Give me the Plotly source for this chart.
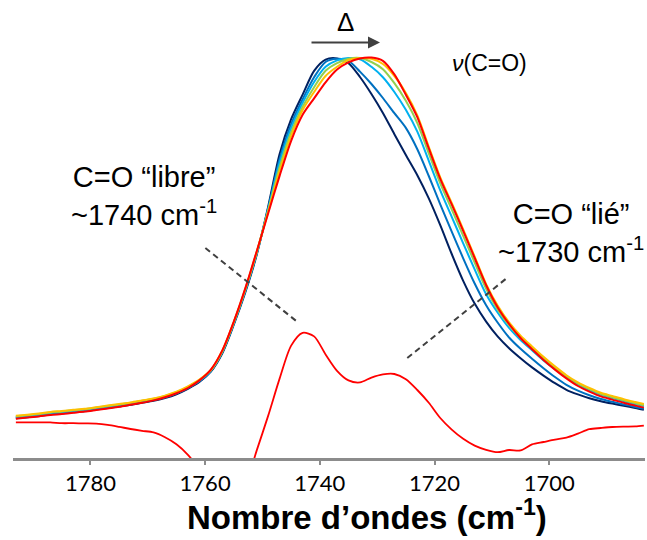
import plotly.graph_objects as go

# Wavenumber grid (cm-1)
wavenumbers = [1793, 1791, 1789, 1787, 1785, 1783, 1781, 1779, 1777, 1775, 1773, 1771, 1769, 1767,
               1765, 1763, 1761, 1759, 1757, 1755, 1753, 1751, 1749, 1747, 1745, 1743, 1741, 1739,
               1737, 1735, 1733, 1731, 1729, 1727, 1725, 1723, 1721, 1719, 1717, 1715, 1713, 1711,
               1709, 1707, 1705, 1703, 1701, 1699, 1697, 1695, 1693, 1691, 1689, 1687, 1685, 1683.5]

# Normalised absorbance spectra
navy = [0.0995, 0.102, 0.105, 0.109, 0.1115, 0.1145, 0.117, 0.121, 0.125, 0.129, 0.133, 0.138, 0.143, 0.150,
        0.1595, 0.173, 0.190, 0.216, 0.262, 0.3335, 0.414, 0.508, 0.629, 0.7605, 0.847, 0.9085, 0.968, 0.996,
        0.999, 0.987, 0.9525, 0.910, 0.8625, 0.8095, 0.7575, 0.707, 0.649, 0.582, 0.510, 0.443, 0.386, 0.341,
        0.304, 0.2745, 0.2495, 0.2265, 0.206, 0.187, 0.1705, 0.159, 0.1495, 0.142, 0.136, 0.1305, 0.125, 0.1205]
blue = [0.1015, 0.104, 0.107, 0.111, 0.1135, 0.1165, 0.119, 0.123, 0.127, 0.131, 0.135, 0.140, 0.145, 0.152,
        0.1615, 0.175, 0.192, 0.2175, 0.264, 0.336, 0.417, 0.511, 0.625, 0.748, 0.835, 0.897, 0.952, 0.99,
        0.998, 0.993, 0.966, 0.935, 0.90, 0.862, 0.8252, 0.772, 0.705, 0.634, 0.5658, 0.4993, 0.4363, 0.382,
        0.3387, 0.3013, 0.273, 0.2482, 0.2245, 0.2024, 0.183, 0.1685, 0.157, 0.1474, 0.1405, 0.134, 0.1277, 0.123]
lightblue = [0.1025, 0.105, 0.108, 0.112, 0.1145, 0.1175, 0.120, 0.124, 0.128, 0.132, 0.136, 0.141, 0.146, 0.153,
             0.1625, 0.176, 0.193, 0.2185, 0.2655, 0.337, 0.419, 0.5125, 0.622, 0.739, 0.825, 0.888, 0.940, 0.978,
             0.994, 1.0, 0.997, 0.978, 0.952, 0.915, 0.8704, 0.8158, 0.7428, 0.669, 0.603, 0.5368, 0.4715, 0.4093,
             0.3636, 0.3251, 0.295, 0.2695, 0.244, 0.222, 0.201, 0.184, 0.170, 0.158, 0.150, 0.142, 0.135, 0.130]
green = [0.1045, 0.107, 0.110, 0.114, 0.1165, 0.1195, 0.122, 0.126, 0.130, 0.134, 0.138, 0.143, 0.148, 0.155,
         0.1645, 0.178, 0.195, 0.2195, 0.267, 0.339, 0.421, 0.514, 0.619, 0.728, 0.815, 0.878, 0.927, 0.968,
         0.987, 0.998, 1.0, 0.99, 0.972, 0.937, 0.893, 0.8375, 0.7615, 0.6864, 0.6216, 0.5555, 0.4886, 0.4229,
         0.3713, 0.332, 0.300, 0.274, 0.249, 0.224, 0.203, 0.186, 0.172, 0.160, 0.152, 0.144, 0.137, 0.132]
gold = [0.1055, 0.108, 0.111, 0.115, 0.1175, 0.1205, 0.123, 0.127, 0.131, 0.135, 0.139, 0.144, 0.149, 0.156,
        0.1655, 0.179, 0.196, 0.220, 0.268, 0.340, 0.4225, 0.5155, 0.616, 0.718, 0.805, 0.870, 0.915, 0.955,
        0.978, 0.995, 1.0, 0.998, 0.985, 0.955, 0.9125, 0.8564, 0.7778, 0.7015, 0.6377, 0.5718, 0.5034, 0.4347,
        0.3813, 0.339, 0.306, 0.279, 0.253, 0.229, 0.207, 0.189, 0.175, 0.163, 0.155, 0.147, 0.140, 0.135]
red = [0.098, 0.101, 0.104, 0.1075, 0.110, 0.113, 0.116, 0.120, 0.124, 0.128, 0.133, 0.138, 0.144, 0.152,
       0.162, 0.175, 0.194, 0.221, 0.269, 0.341, 0.424, 0.517, 0.612, 0.706, 0.793, 0.858, 0.899, 0.939,
       0.971, 0.989, 0.999, 1.001, 0.993, 0.959, 0.908, 0.852, 0.774, 0.698, 0.634, 0.568, 0.500, 0.432,
       0.377, 0.335, 0.300, 0.272, 0.245, 0.221, 0.199, 0.180, 0.166, 0.154, 0.146, 0.138, 0.131, 0.126]
# Difference spectrum
difference = [0.089, 0.089, 0.089, 0.089, 0.087, 0.087, 0.0865, 0.086, 0.083, 0.078, 0.0725, 0.068, 0.064, 0.052,
              0.0345, 0.008, -0.03, -0.08, -0.105, -0.105, -0.068, 0.019, 0.106, 0.199, 0.281, 0.313, 0.304, 0.259,
              0.218, 0.194, 0.189, 0.201, 0.209, 0.21, 0.197, 0.170, 0.138, 0.100, 0.071, 0.048, 0.031, 0.0205,
              0.0145, 0.020, 0.019, 0.034, 0.040, 0.046, 0.051, 0.061, 0.072, 0.075, 0.0775, 0.0785, 0.079, 0.081]

tick_values = [1780, 1760, 1740, 1720, 1700]

series = [
    (navy, "#002060"),
    (blue, "#0070C0"),
    (lightblue, "#00B0F0"),
    (green, "#92D050"),
    (gold, "#FFC000"),
    (red, "#FF0000"),
]

fig = go.Figure()
for ys, col in series:
    fig.add_trace(go.Scatter(x=wavenumbers, y=ys, mode="lines",
                             line=dict(color=col, width=2, shape="spline", smoothing=0.8),
                             hoverinfo="skip", showlegend=False))
fig.add_trace(go.Scatter(x=wavenumbers, y=difference, mode="lines",
                         line=dict(color="#FF0000", width=1.8, shape="spline", smoothing=0.8),
                         hoverinfo="skip", showlegend=False))

txt_font = dict(family="Liberation Sans, Arial", size=29, color="black")

annotations = [
    dict(text="C=O “libre”<br>~1740 cm<sup>-1</sup>", x=0.208, y=1 - 196 / 458, xref="paper", yref="paper",
         showarrow=False, font=txt_font, align="center", xanchor="center", yanchor="middle"),
    dict(text="C=O “lié”<br>~1730 cm<sup>-1</sup>", x=(571 - 13) / 632, y=1 - 233 / 458, xref="paper", yref="paper",
         showarrow=False, font=txt_font, align="center", xanchor="center", yanchor="middle"),
    dict(text="<i>ν</i>(C=O)", x=(489 - 13) / 632, y=1 - 63 / 458, xref="paper", yref="paper",
         showarrow=False, font=dict(family="Liberation Sans, Arial", size=23, color="black"),
         xanchor="center", yanchor="middle"),
    dict(text="Δ", x=(345 - 13) / 632, y=1 - 22 / 458, xref="paper", yref="paper",
         showarrow=False, font=dict(family="Liberation Sans, Arial", size=26, color="black"),
         xanchor="center", yanchor="middle"),
    dict(text="", x=(380 - 13) / 632, y=1 - 42.5 / 458, xref="paper", yref="paper",
         showarrow=True, ax=-70, ay=0, axref="pixel", ayref="pixel",
         arrowhead=2, arrowsize=1.2, arrowwidth=2, arrowcolor="#404040", standoff=0),
    dict(text="<b>Nombre d’ondes (cm<sup>-1</sup>)</b>", x=(367 - 13) / 632, y=1 - 538 / 458,
         xref="paper", yref="paper", showarrow=False,
         font=dict(family="Liberation Sans, Arial", size=33, color="black"),
         xanchor="center", yanchor="bottom"),
]

shapes = [
    dict(type="line", xref="x", yref="y", x0=1759.96, y0=0.525, x1=1743.9, y1=0.34,
         line=dict(color="#404040", width=2, dash="6px,4px")),
    dict(type="line", xref="x", yref="y", x0=1724.75, y0=0.25, x1=1707.15, y1=0.4525,
         line=dict(color="#404040", width=2, dash="6px,4px")),
]

fig.update_layout(
    width=647, height=540,
    margin=dict(l=13, r=2, t=0, b=82),
    paper_bgcolor="white", plot_bgcolor="white",
    showlegend=False,
    annotations=annotations,
    shapes=shapes,
    xaxis=dict(range=[1793.5, 1683.3], showline=True, linecolor="#8c8c8c", linewidth=3,
               ticks="outside", tickcolor="#8c8c8c", ticklen=4, tickwidth=2,
               tickvals=tick_values, ticktext=[str(v) for v in tick_values],
               tickfont=dict(family="Lato", size=22, color="black"),
               showgrid=False, zeroline=False, fixedrange=True),
    yaxis=dict(range=[0, 1.145], visible=False, showgrid=False, zeroline=False, fixedrange=True),
)

fig.write_html("out.html")
